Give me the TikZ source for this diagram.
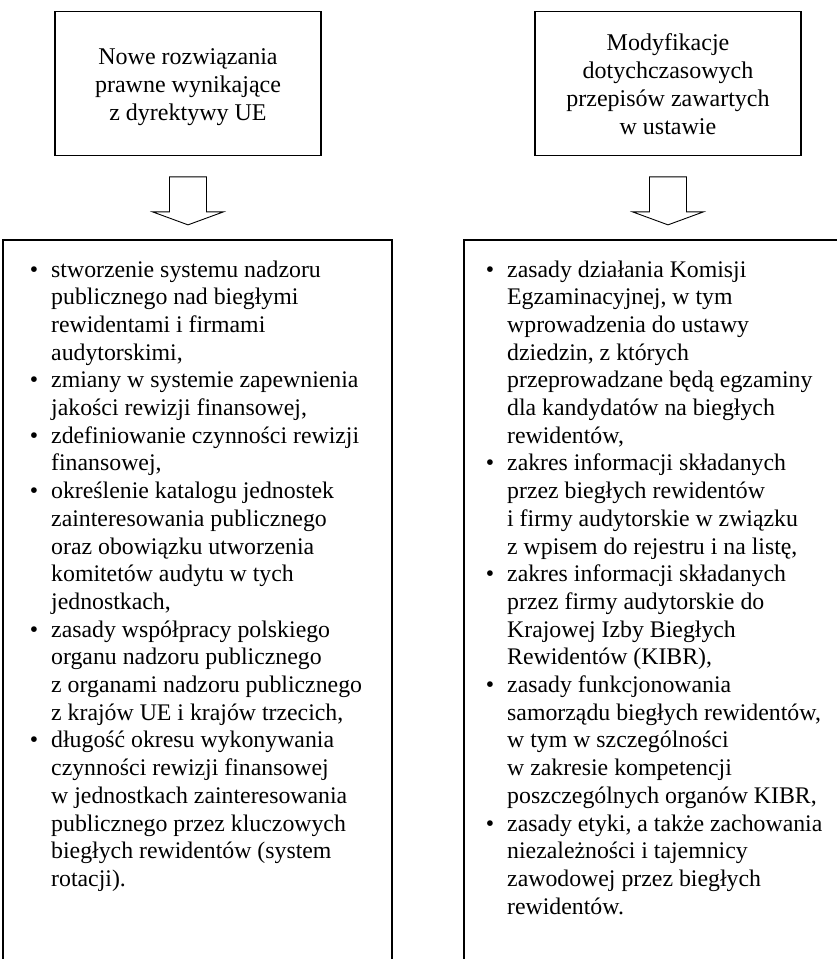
\documentclass[tikz,border=0pt]{standalone}
\usepackage{fontspec}
\setmainfont{Liberation Serif}
\newcommand{\bul}{\leavevmode\llap{\textbullet\hspace{13pt}}}
\begin{document}
\begin{tikzpicture}[x=1pt,y=-1pt,
  topbox/.style={draw, line width=1.7pt, minimum width=266pt, minimum height=144pt, inner sep=0pt},
  framebox/.style={line width=1.7pt},
  hollow/.style={draw, line width=0.9pt, fill=white, line join=miter},
  toptext/.style={inner sep=0pt, anchor=base, font=\fontsize{24}{28}\selectfont},
  listtext/.style={inner sep=0pt, anchor=base west, font=\fontsize{23.8}{27.7}\selectfont}]
\useasboundingbox (0,0) rectangle (837,959);

% top boxes
\node[topbox] (b1) at (188,83.5) {};
\node[topbox] (b2) at (668,83.5) {};
\node[toptext] (t1) at (188,64) {\vtop{\hsize=260pt\centering\parindent=0pt
  Nowe rozwiązania\par prawne wynikające\par z dyrektywy UE\par}};
\node[toptext] (t2) at (668,50) {\vtop{\hsize=260pt\centering\parindent=0pt
  Modyfikacje\par dotychczasowych\par przepisów zawartych\par w ustawie\par}};

% block arrows
\coordinate (a1) at ([yshift=-20.5pt]b1.south);
\coordinate (a2) at ([yshift=-20.5pt]b2.south);
\draw[hollow, shift={(a1)}] (-18.5,0) -- (18.5,0) -- (18.5,35) -- (35.5,35) -- (0,48) -- (-35.5,35) -- (-18.5,35) -- cycle;
\draw[hollow, shift={(a2)}] (-18.5,0) -- (18.5,0) -- (18.5,35) -- (35.5,35) -- (0,48) -- (-35.5,35) -- (-18.5,35) -- cycle;

% bottom frames (open at the bottom)
\coordinate (f1a) at (3,965);
\coordinate (f1b) at (3,240);
\coordinate (f1c) at (392,240);
\coordinate (f1d) at (392,965);
\draw[framebox] (f1a) -- (f1b) -- (f1c) -- (f1d);
\coordinate (f2a) at (464,965);
\coordinate (f2b) at (464,240);
\coordinate (f2c) at (845,240);
\draw[framebox] (f2a) -- (f2b) -- (f2c);

% lists
\node[listtext] (l1) at (51,277) {\vtop{\hsize=340pt\raggedright\parindent=0pt\parskip=0pt
\bul stworzenie systemu nadzoru\par
publicznego nad biegłymi\par
rewidentami i firmami\par
audytorskimi,\par
\bul zmiany w systemie zapewnienia\par
jakości rewizji finansowej,\par
\bul zdefiniowanie czynności rewizji\par
finansowej,\par
\bul określenie katalogu jednostek\par
zainteresowania publicznego\par
oraz obowiązku utworzenia\par
komitetów audytu w tych\par
jednostkach,\par
\bul zasady współpracy polskiego\par
organu nadzoru publicznego\par
z organami nadzoru publicznego\par
z krajów UE i krajów trzecich,\par
\bul długość okresu wykonywania\par
czynności rewizji finansowej\par
w jednostkach zainteresowania\par
publicznego przez kluczowych\par
biegłych rewidentów (system\par
rotacji).\par}};

\node[listtext] (l2) at (507,277) {\vtop{\hsize=330pt\raggedright\parindent=0pt\parskip=0pt
\bul zasady działania Komisji\par
Egzaminacyjnej, w tym\par
wprowadzenia do ustawy\par
dziedzin, z których\par
przeprowadzane będą egzaminy\par
dla kandydatów na biegłych\par
rewidentów,\par
\bul zakres informacji składanych\par
przez biegłych rewidentów\par
i firmy audytorskie w związku\par
z wpisem do rejestru i na listę,\par
\bul zakres informacji składanych\par
przez firmy audytorskie do\par
Krajowej Izby Biegłych\par
Rewidentów (KIBR),\par
\bul zasady funkcjonowania\par
samorządu biegłych rewidentów,\par
w tym w szczególności\par
w zakresie kompetencji\par
poszczególnych organów KIBR,\par
\bul zasady etyki, a także zachowania\par
niezależności i tajemnicy\par
zawodowej przez biegłych\par
rewidentów.\par}};
\end{tikzpicture}
\end{document}
